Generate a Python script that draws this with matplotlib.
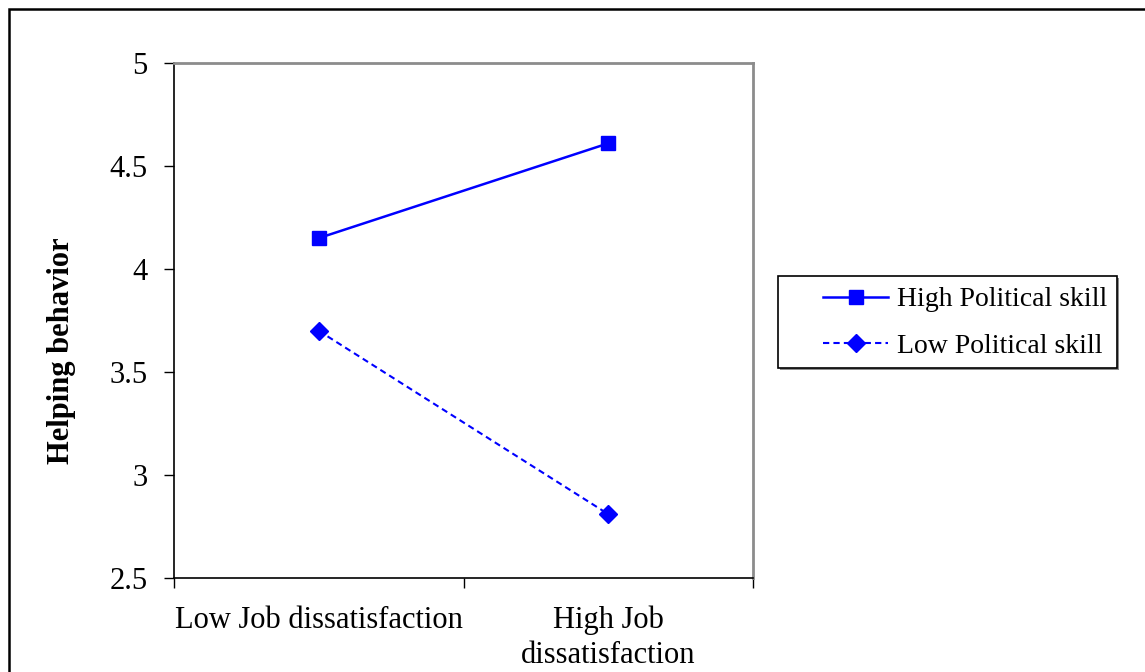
import matplotlib
matplotlib.use("Agg")
from matplotlib import pyplot as plt
from matplotlib.patches import Rectangle

plt.rcParams['font.family'] = ['Liberation Serif', 'DejaVu Serif']

categories = ["Low Job dissatisfaction", "High Job\ndissatisfaction"]
high_skill = [4.15, 4.61]
low_skill = [3.70, 2.81]
y_ticks = [2.5, 3, 3.5, 4, 4.5, 5]
y_tick_labels = ["2.5", "3", "3.5", "4", "4.5", "5"]

W, H = 1145, 672
fig = plt.figure(figsize=(W / 100, H / 100), dpi=100)
# axes box in pixels: left 174, right 753, top 63, bottom 578
ax = fig.add_axes([174 / W, 1 - 578 / H, (753 - 174) / W, (578 - 63) / H])

x = [0.5, 1.5]
ax.plot(x, high_skill, color='#0000ff', lw=1.8, marker='s', ms=10.5,
        label="High Political skill")
ax.plot(x, low_skill, color='#0000ff', lw=1.5, ls=(0, (3, 2)), marker='D', ms=9,
        label="Low Political skill")

ax.set_xlim(0, 2)
ax.set_ylim(2.5, 5)
ax.set_yticks(y_ticks)
ax.set_yticklabels(y_tick_labels, fontsize=22)
ax.set_xticks([0, 1, 2])
ax.set_xticklabels([])
ax.tick_params(axis='both', direction='out', length=7, width=1, color='black')
ax.tick_params(axis='y', pad=12)
for xi, lab in zip(x, categories):
    ax.text(xi, -0.054, lab, transform=ax.get_xaxis_transform(), ha='center',
            va='top', fontsize=22, linespacing=1.26)

for s in ['left', 'bottom']:
    ax.spines[s].set_color('black')
    ax.spines[s].set_linewidth(1.2)
for s in ['top', 'right']:
    ax.spines[s].set_color('#8c8c8c')
    ax.spines[s].set_linewidth(2)

fig.text(62 / W, 1 - 351 / H, "Helping behavior", rotation=90, ha='center',
         va='center', fontsize=22, fontweight='bold')

# legend box drawn by hand: 778..1117 x 276..368 px
fig.patches.append(Rectangle((780 / W, 1 - 370 / H), (1119 - 780) / W, (370 - 278) / H,
                             transform=fig.transFigure, facecolor='#8c8c8c',
                             edgecolor='none'))
fig.patches.append(Rectangle((778 / W, 1 - 368 / H), (1117 - 778) / W, (368 - 276) / H,
                             transform=fig.transFigure, facecolor='white',
                             edgecolor='black', lw=1.2))
leg = fig.legend(loc='center left', bbox_to_anchor=(823 / W, 1 - 323 / H), fontsize=20,
                 frameon=False, handlelength=2.35, handletextpad=0.3,
                 labelspacing=0.76, borderpad=0, borderaxespad=0)

fig.patches.append(Rectangle((9 / W, -0.1), 0.2 + 1, 1 - 9 / H + 0.1,
                             transform=fig.transFigure, fill=False,
                             edgecolor='black', lw=1.8))

fig.savefig("out.png", dpi=100)
